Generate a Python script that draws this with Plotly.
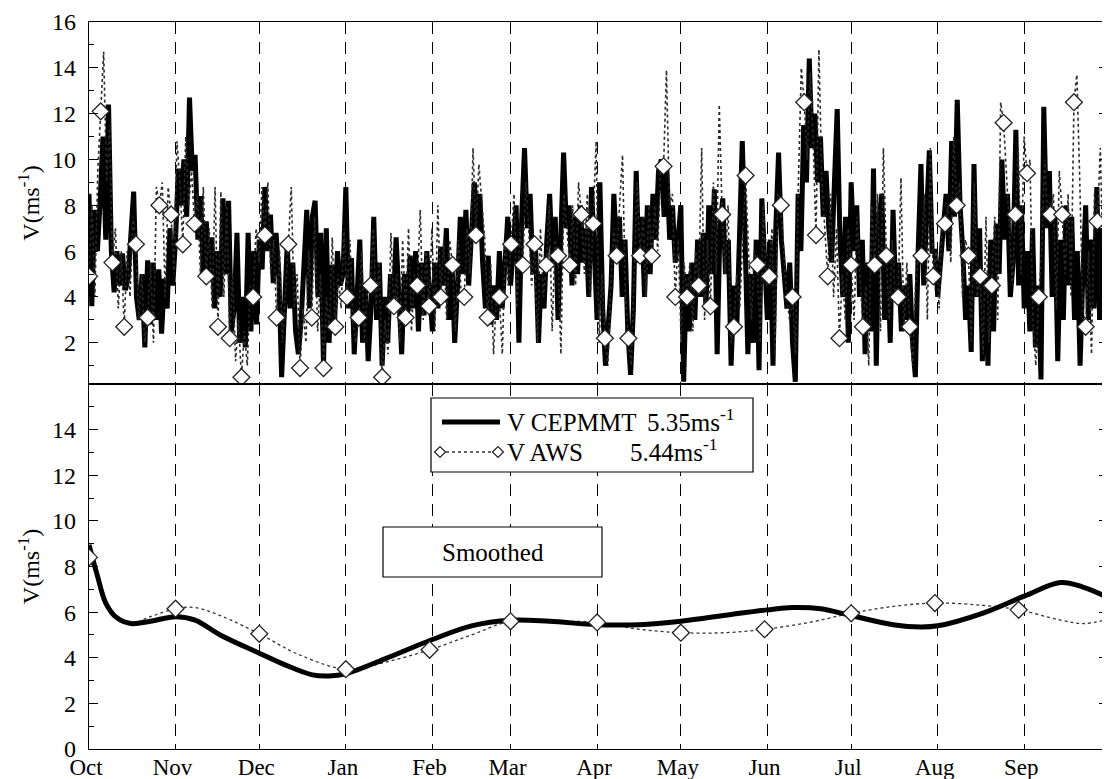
import pandas as pd
import plotly.graph_objects as go
from plotly.subplots import make_subplots

# ---------------- data ----------------
START = "1993-10-01"
END = "1994-10-01"

month_ticks = ["1993-10-01", "1993-11-01", "1993-12-01", "1994-01-01", "1994-02-01",
               "1994-03-01", "1994-04-01", "1994-05-01", "1994-06-01", "1994-07-01",
               "1994-08-01", "1994-09-01"]
month_labels = ["Oct", "Nov", "Dec", "Jan", "Feb", "Mar", "Apr", "May", "Jun", "Jul", "Aug", "Sep"]

# daily wind speed, CEPMMT (m/s), 1 Oct -> 30 Sep
v_cepmmt = [
    8.5, 3.6, 7.8, 6.0, 8.2, 11.0, 6.5, 12.4, 6.0, 4.2, 6.0, 4.5, 5.9, 4.3, 4.8, 6.5,
    8.6, 4.0, 3.0, 5.0, 1.8, 5.6, 2.8, 5.5, 3.0, 5.2, 2.4, 4.8, 3.5, 7.0, 4.5, 6.5,
    9.6, 8.0, 10.0, 7.5, 12.7, 9.5, 10.2, 6.5, 8.4, 4.8, 7.3, 5.0, 6.6, 3.5, 6.0, 4.0,
    8.3, 5.0, 8.2, 2.5, 3.5, 6.8, 2.0, 4.0, 1.8, 6.8, 2.5, 6.0, 2.8, 6.5, 5.2, 8.8,
    6.0, 7.6, 4.6, 6.8, 5.0, 0.5, 4.0, 6.3, 3.5, 5.5, 2.5, 1.5, 3.0, 5.0, 7.8, 3.5,
    7.5, 8.2, 4.0, 6.8, 1.0, 7.0, 2.0, 5.4, 3.0, 6.0, 4.5, 5.0, 8.8, 3.5, 5.7, 1.5,
    4.0, 6.5, 2.0, 4.5, 1.2, 3.5, 7.5, 3.0, 5.5, 1.0, 4.0, 2.0, 5.0, 3.5, 6.6, 4.5,
    1.5, 5.0, 3.0, 5.8, 3.5, 6.0, 2.5, 5.5, 3.2, 6.0, 4.0, 2.5, 5.5, 3.5, 6.2, 4.5,
    7.0, 3.0, 5.5, 2.0, 4.5, 7.5, 5.0, 7.8, 4.5, 6.5, 9.0, 7.0, 8.5, 5.5, 3.5, 5.8,
    2.8, 4.5, 3.0, 6.0, 3.5, 5.5, 7.5, 4.5, 6.5, 8.0, 2.0, 7.5, 10.5, 7.0, 8.5, 5.0,
    6.0, 2.0, 5.0, 3.5, 6.5, 8.5, 5.5, 7.5, 3.0, 6.0, 10.3, 7.0, 8.0, 4.5, 7.5, 5.0,
    8.0, 5.5, 7.0, 4.0, 8.8, 6.0, 3.0, 9.0, 3.5, 1.0, 2.5, 4.5, 8.5, 6.0, 7.5, 4.0,
    6.5, 2.5, 0.6, 3.5, 9.5, 5.5, 7.5, 4.0, 8.0, 5.0, 8.5, 6.5, 9.5, 10.0, 7.5, 9.5,
    6.5, 8.0, 5.5, 6.5, 8.0, 0.3, 5.0, 2.5, 5.5, 3.0, 6.5, 4.0, 6.8, 3.5, 8.0, 5.0,
    8.7, 1.5, 7.0, 8.3, 5.0, 6.5, 1.0, 4.5, 2.5, 6.0, 10.8, 6.5, 1.5, 5.0, 2.0, 6.5,
    0.8, 8.3, 5.0, 3.0, 6.5, 1.0, 7.0, 10.3, 6.5, 5.0, 3.5, 5.5, 2.0, 0.3, 8.5, 6.0,
    11.5, 9.0, 14.4, 10.5, 12.0, 9.0, 11.0, 7.5, 9.5, 7.0, 5.5, 9.0, 12.2, 6.5, 4.0, 7.5,
    2.0, 9.0, 6.0, 8.0, 4.0, 6.5, 1.5, 5.5, 2.5, 9.6, 1.0, 7.5, 8.5, 3.0, 6.0, 2.0,
    7.8, 4.0, 5.5, 2.5, 4.5, 3.0, 5.0, 2.0, 0.5, 6.0, 9.8, 4.5, 7.5, 10.4, 6.0, 6.0,
    4.0, 5.5, 7.0, 8.5, 6.0, 10.8, 7.5, 12.6, 8.0, 6.0, 3.0, 4.5, 1.6, 9.8, 4.0, 7.0,
    1.2, 5.0, 1.0, 6.5, 2.5, 7.2, 5.0, 10.0, 6.5, 8.5, 4.0, 5.5, 11.3, 4.5, 8.0, 3.5,
    6.0, 2.5, 7.0, 1.8, 4.5, 0.4, 12.3, 7.0, 9.5, 4.0, 7.5, 1.2, 6.5, 3.0, 8.0, 4.5,
    7.5, 3.0, 6.0, 1.0, 5.0, 8.0, 3.0, 6.5, 3.5, 8.8, 3.0, 7.0, 5.5,
]

# AWS wind speed (m/s), one sample every AWS_STEP_DAYS, marker drawn on every 4th sample
AWS_STEP_DAYS = 1.05
AWS_MARKER_EVERY = 4
v_aws = [
    4.9, 8.0, 4.0, 9.5, 12.1, 14.7, 9.0, 11.5, 5.5, 7.0, 3.5, 6.0, 2.7, 6.0, 4.0, 7.5,
    6.3, 3.0, 5.0, 2.0, 3.1, 5.5, 2.0, 8.8, 8.0, 9.0, 4.0, 8.8, 7.6, 5.0, 10.8, 9.0,
    6.3, 11.0, 8.0, 9.5, 7.2, 8.5, 5.0, 8.8, 4.9, 7.0, 3.5, 8.8, 2.7, 8.6, 4.0, 8.0,
    2.2, 5.0, 1.2, 3.0, 0.5, 2.5, 1.0, 4.5, 4.0, 7.0, 5.5, 8.8, 6.7, 9.0, 5.0, 6.5,
    3.1, 6.0, 2.0, 4.0, 6.3, 8.8, 3.5, 5.0, 0.9, 3.5, 2.0, 6.0, 3.1, 7.5, 2.5, 5.0,
    0.9, 4.0, 2.5, 6.6, 2.7, 5.0, 3.5, 7.0, 4.0, 6.5, 3.0, 2.0, 3.1, 6.0, 2.0, 4.5,
    4.5, 7.0, 3.5, 5.5, 0.5, 3.0, 1.5, 6.8, 3.6, 5.0, 2.0, 6.5, 3.1, 7.0, 2.5, 5.0,
    4.5, 7.8, 3.0, 6.0, 3.6, 7.0, 2.5, 8.0, 4.0, 6.5, 3.0, 6.5, 5.4, 2.5, 6.5, 4.0,
    4.0, 7.0, 5.0, 10.5, 6.7, 9.8, 8.0, 6.5, 3.1, 5.5, 1.5, 4.0, 4.0, 1.5, 6.5, 4.5,
    6.3, 8.5, 3.5, 7.0, 5.4, 9.0, 7.0, 4.5, 6.3, 2.0, 7.0, 4.0, 5.4, 8.0, 2.5, 6.5,
    5.8, 1.5, 8.5, 7.0, 5.4, 8.0, 4.5, 9.0, 7.6, 5.0, 8.5, 4.0, 7.2, 10.8, 2.0, 5.0,
    2.2, 1.0, 4.5, 7.0, 5.8, 8.0, 10.2, 4.0, 2.2, 1.0, 5.0, 9.0, 5.8, 7.5, 4.0, 8.0,
    5.8, 8.0, 6.0, 9.5, 9.7, 13.9, 8.0, 8.5, 4.0, 6.5, 2.0, 5.5, 4.0, 5.5, 2.5, 6.0,
    4.5, 10.5, 3.0, 6.5, 3.6, 9.0, 5.0, 12.4, 7.6, 5.0, 8.0, 2.0, 2.7, 5.0, 3.5, 6.5,
    9.3, 6.0, 3.0, 6.0, 5.4, 2.0, 8.0, 4.5, 4.9, 7.0, 1.5, 8.5, 8.0, 6.0, 4.0, 3.0,
    4.0, 1.5, 9.0, 14.0, 12.5, 10.0, 13.8, 11.0, 6.7, 14.8, 9.0, 7.0, 4.9, 8.5, 4.0, 7.0,
    2.2, 5.0, 3.0, 7.0, 5.4, 3.0, 7.5, 5.0, 2.7, 4.5, 1.0, 8.0, 5.4, 8.5, 2.5, 10.5,
    5.8, 3.0, 6.5, 4.0, 4.0, 9.2, 2.5, 5.5, 2.7, 1.0, 4.5, 6.0, 5.8, 8.5, 3.0, 10.5,
    4.9, 6.0, 3.5, 7.5, 7.2, 8.0, 5.5, 11.0, 8.0, 9.0, 4.0, 6.5, 5.8, 2.0, 9.0, 4.0,
    4.9, 1.5, 7.5, 2.0, 4.5, 7.5, 3.0, 12.5, 11.6, 9.0, 7.0, 4.5, 7.6, 10.5, 5.0, 11.0,
    9.4, 10.0, 3.0, 1.0, 4.0, 6.0, 10.0, 7.5, 7.6, 8.5, 3.5, 9.5, 7.6, 5.0, 8.5, 4.0,
    12.5, 13.7, 9.0, 3.5, 2.7, 6.0, 1.5, 8.5, 7.3, 10.5, 5.0, 7.0,
]

# smoothed series (day of year from 1 Oct, m/s)
smooth_cep_days = [0, 3, 6, 10, 15, 22, 31, 38, 47, 61, 70, 80, 86, 92, 106, 123, 137, 151,
                   165, 182, 197, 212, 230, 243, 252, 262, 273, 288, 298, 304, 320, 335, 348,
                   356, 364]
smooth_cep = [8.95, 7.6, 6.4, 5.75, 5.5, 5.6, 5.8, 5.65, 5.0, 4.2, 3.7, 3.25, 3.2, 3.3, 3.95,
              4.8, 5.4, 5.65, 5.6, 5.45, 5.45, 5.6, 5.9, 6.1, 6.2, 6.15, 5.85, 5.45, 5.35,
              5.4, 5.95, 6.7, 7.3, 7.1, 6.7]

smooth_aws_days = [0, 3, 6, 10, 15, 22, 31, 38, 47, 61, 75, 92, 106, 122, 137, 151, 167, 182,
                   197, 212, 228, 242, 258, 273, 288, 303, 320, 333, 348, 356, 364]
smooth_aws = [8.4, 7.5, 6.4, 5.75, 5.5, 5.8, 6.15, 6.2, 5.85, 5.05, 4.15, 3.5, 3.8, 4.35, 5.0,
              5.6, 5.6, 5.55, 5.25, 5.1, 5.1, 5.25, 5.55, 5.95, 6.25, 6.4, 6.3, 6.1, 5.65,
              5.5, 5.65]
smooth_aws_marker_days = [0, 31, 61, 92, 122, 151, 182, 212, 242, 273, 303, 333]

mean_cep_label = "5.35ms<sup>-1</sup>"
mean_aws_label = "5.44ms<sup>-1</sup>"

# ---------------- derived x values ----------------
t0 = pd.Timestamp(START)
x_cep = [t0 + pd.Timedelta(days=i) for i in range(len(v_cepmmt))]
x_aws = [t0 + pd.Timedelta(days=i * AWS_STEP_DAYS) for i in range(len(v_aws))]
x_aws_m = x_aws[::AWS_MARKER_EVERY]
y_aws_m = v_aws[::AWS_MARKER_EVERY]
x_scep = [t0 + pd.Timedelta(days=d) for d in smooth_cep_days]
x_saws = [t0 + pd.Timedelta(days=d) for d in smooth_aws_days]
x_saws_m = [t0 + pd.Timedelta(days=d) for d in smooth_aws_marker_days]
y_saws_m = [smooth_aws[smooth_aws_days.index(d)] for d in smooth_aws_marker_days]

FONT = "Liberation Serif, Times New Roman, serif"
BODY = 8                      # default page margin of the html body
W, H = 1110 - BODY, 779 - BODY
PLOT_L, PLOT_R, PLOT_T, PLOT_B = 89, 1108, 22, 749   # absolute pixel box of the plot area
ML, MR, MT, MB = PLOT_L - BODY, 1110 - PLOT_R, PLOT_T - BODY, 779 - PLOT_B
SPLIT = 0.502

fig = make_subplots(rows=2, cols=1, shared_xaxes=True, vertical_spacing=0)

diamond = dict(symbol="diamond", size=13, color="white", line=dict(color="#222222", width=1.3))

# top panel
fig.add_trace(go.Scatter(x=x_cep, y=v_cepmmt, mode="lines",
                         line=dict(color="black", width=5), name="V CEPMMT",
                         showlegend=False), row=1, col=1)
fig.add_trace(go.Scatter(x=x_aws, y=v_aws, mode="lines",
                         line=dict(color="#2a2a2a", width=1.6, dash="dot"), name="V AWS",
                         showlegend=False), row=1, col=1)
fig.add_trace(go.Scatter(x=x_aws_m, y=y_aws_m, mode="markers", marker=diamond,
                         name="V AWS", showlegend=False), row=1, col=1)

# bottom panel (smoothed)
fig.add_trace(go.Scatter(x=x_saws, y=smooth_aws, mode="lines",
                         line=dict(color="#333333", width=1.3, dash="dot", shape="spline"),
                         showlegend=False), row=2, col=1)
fig.add_trace(go.Scatter(x=x_scep, y=smooth_cep, mode="lines",
                         line=dict(color="black", width=5, shape="spline"),
                         showlegend=False), row=2, col=1)
fig.add_trace(go.Scatter(x=x_saws_m, y=y_saws_m, mode="markers", marker=diamond,
                         showlegend=False), row=2, col=1)

xcommon = dict(type="date", range=[START, END], tickvals=month_ticks, ticktext=month_labels,
               showgrid=True, gridcolor="black", gridwidth=1, griddash="12px,8px",
               showline=True, linecolor="black", linewidth=1.2, mirror=True, ticks="",
               zeroline=False, automargin=False, ticklabelshift=-3, ticklabelstandoff=-3,
               tickfont=dict(family=FONT, size=23, color="black"))
fig.update_xaxes(**xcommon)
fig.update_xaxes(showticklabels=False, row=1, col=1)
fig.update_xaxes(showticklabels=True, row=2, col=1)

ycommon = dict(showgrid=False, zeroline=False, showline=True, linecolor="black", linewidth=1.2,
               mirror="allticks", ticks="inside", ticklen=9, tickcolor="black",
               automargin=False, ticklabelstandoff=7,
               minor=dict(ticks="inside", ticklen=5, dtick=1, tickcolor="black", showgrid=False),
               tickfont=dict(family=FONT, size=24, color="black"),
               title=dict(text="V(ms<sup>-1</sup>)", font=dict(family=FONT, size=24, color="black"),
                          standoff=5))
fig.update_yaxes(**ycommon)
fig.update_yaxes(range=[0.2, 16], tickvals=[2, 4, 6, 8, 10, 12, 14, 16], row=1, col=1)
fig.update_yaxes(range=[0, 16], tickvals=[0, 2, 4, 6, 8, 10, 12, 14], row=2, col=1)

fig.update_layout(
    width=W, height=H,
    margin=dict(l=ML, r=MR, t=MT, b=MB),
    paper_bgcolor="white", plot_bgcolor="white",
    font=dict(family=FONT, color="black"),
)
fig.layout.yaxis.domain = [SPLIT, 1.0]
fig.layout.yaxis2.domain = [0.0, SPLIT]

# ---------------- custom legend & label boxes (absolute pixel layout -> paper coords) ----------
PW = PLOT_R - PLOT_L
PH = PLOT_B - PLOT_T


def px(x):
    return (x - PLOT_L) / PW


def py(y):
    return (PLOT_B - y) / PH


shapes = []
annotations = []
ROW1, ROW2 = 422, 452
# legend box
shapes.append(dict(type="rect", xref="paper", yref="paper", x0=px(431), x1=px(753),
                   y0=py(472), y1=py(398), line=dict(color="black", width=1.2),
                   fillcolor="white", layer="above"))
# row 1: thick line sample
shapes.append(dict(type="line", xref="paper", yref="paper", x0=px(442), x1=px(500),
                   y0=py(ROW1), y1=py(ROW1), line=dict(color="black", width=5), layer="above"))
# row 2: dotted line sample with diamonds
shapes.append(dict(type="line", xref="paper", yref="paper", x0=px(440), x1=px(498),
                   y0=py(ROW2), y1=py(ROW2), line=dict(color="#333333", width=1.3, dash="dot"),
                   layer="above"))
for cx in (440, 498):
    r = 5.5
    path = (f"M {px(cx - r)},{py(ROW2)} L {px(cx)},{py(ROW2 - r)} "
            f"L {px(cx + r)},{py(ROW2)} L {px(cx)},{py(ROW2 + r)} Z")
    shapes.append(dict(type="path", xref="paper", yref="paper", path=path,
                       line=dict(color="#222222", width=1.2), fillcolor="white", layer="above"))

lfont = dict(family=FONT, size=25, color="black")
annotations += [
    dict(x=px(505), y=py(ROW1), xref="paper", yref="paper", text="V CEPMMT", showarrow=False,
         xanchor="left", yanchor="middle", font=lfont),
    dict(x=px(645), y=py(ROW1 - 2), xref="paper", yref="paper", text=mean_cep_label,
         showarrow=False, xanchor="left", yanchor="middle", font=lfont),
    dict(x=px(505), y=py(ROW2), xref="paper", yref="paper", text="V AWS", showarrow=False,
         xanchor="left", yanchor="middle", font=lfont),
    dict(x=px(628), y=py(ROW2 - 2), xref="paper", yref="paper", text=mean_aws_label,
         showarrow=False, xanchor="left", yanchor="middle", font=lfont),
]
# "Smoothed" box
shapes.append(dict(type="rect", xref="paper", yref="paper", x0=px(383), x1=px(602),
                   y0=py(577), y1=py(527), line=dict(color="black", width=1.2),
                   fillcolor="white", layer="above"))
annotations.append(dict(x=px(493), y=py(552), xref="paper", yref="paper", text="Smoothed",
                        showarrow=False, xanchor="center", yanchor="middle",
                        font=dict(family=FONT, size=25, color="black")))

fig.update_layout(shapes=shapes, annotations=annotations)

fig.write_html("out.html")
